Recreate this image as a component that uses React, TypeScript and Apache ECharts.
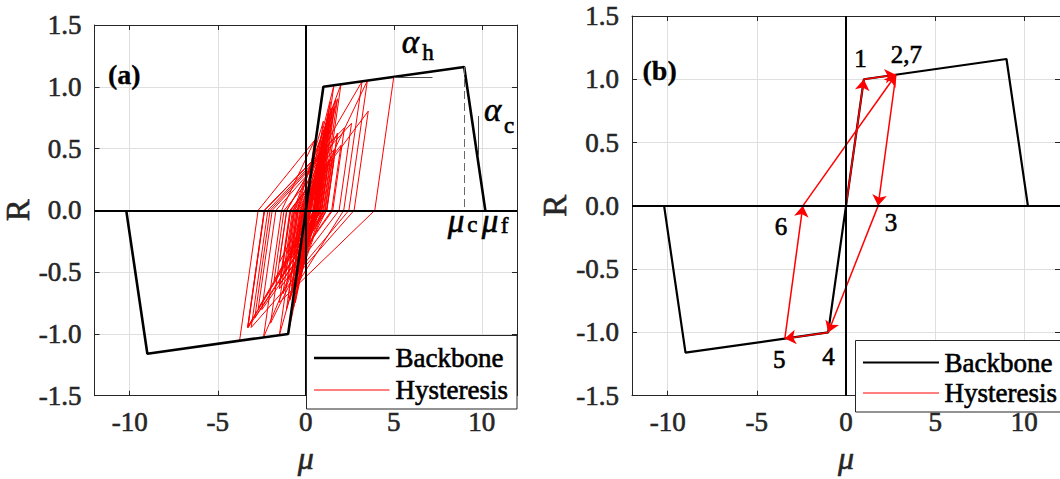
import React, { useEffect, useRef } from "react";
import * as echarts from "echarts";

const FONT = "'Liberation Serif', 'Times New Roman', 'DejaVu Serif', serif";

const xTicks = [-10, -5, 0, 5, 10];
const yTicks = [-1.5, -1.0, -0.5, 0, 0.5, 1.0, 1.5];

// Backbone curve (mu, R)
const backbone: [number, number][] = [
  [-10.2, 0], [-9, -1.16], [-1, -1], [0, 0], [1, 1], [9, 1.16], [10.2, 0],
];

// Panel (a): hysteresis history (mu, R)
const hystA: [number, number][] = [
  [0, 0], [0.5, 0.5], [-0.4, -0.4], [0.8, 0.8], [-0.7, -0.7], [1.0, 1.0], [1.6, 1.012],
  [0.588, 0], [-0.3, -0.559], [0.259, 0], [1.1, 0.635], [0.465, 0], [-0.5, -0.659], [0.159, 0],
  [1.3, 0.801], [0.499, 0], [-0.2, -0.466], [0.266, 0], [0.9, 0.481], [0.419, 0], [-0.7, -0.789],
  [0.089, 0], [1.4, 0.878], [0.522, 0],
  [-0.6, -0.748], [0.148, 0], [1.2, 0.734], [0.466, 0], [-1.0, -1.0], [-1.5, -1.01],
  [-0.49, 0], [1.0, 0.721], [0.279, 0], [-0.8, -0.613], [-0.187, 0], [1.6, 1.012], [2.0, 1.02],
  [0.98, 0], [-0.3, -0.521], [0.221, 0], [1.0, 0.447], [0.553, 0], [-0.6, -0.567], [-0.033, 0],
  [1.3, 0.669], [0.631, 0], [-0.2, -0.394], [0.194, 0], [0.9, 0.399], [0.501, 0], [-0.8, -0.657],
  [-0.143, 0], [1.5, 0.782], [0.718, 0], [-0.4, -0.509], [0.109, 0], [1.1, 0.534], [0.566, 0],
  [-0.5, -0.521], [0.021, 0], [1.3, 0.659], [0.641, 0],
  [-0.9, -0.727], [-0.173, 0], [1.6, 0.832], [0.768, 0], [-0.3, -0.475], [0.175, 0], [0.8, 0.349],
  [0.451, 0], [-1.1, -0.803], [-0.297, 0], [1.4, 0.754], [0.646, 0], [-0.1, -0.351], [0.251, 0],
  [1.8, 0.903], [0.897, 0], [-0.6, -0.631], [0.031, 0], [1.0, 0.502], [0.498, 0],
  [-1.5, -1.01], [-2.4, -1.028],
  [-1.372, 0], [0.5, 0.566], [-0.066, 0], [-1.2, -0.5], [-0.7, 0], [1.5, 0.831], [0.669, 0],
  [-1.0, -0.559], [-0.441, 0], [1.7, 0.895], [0.805, 0], [-1.3, -0.676], [-0.624, 0], [2.0, 1.02],
  [3.2, 1.044], [2.156, 0], [-1.0, -0.712], [-0.288, 0], [1.8, 0.625], [1.175, 0], [-2.0, -0.913],
  [-1.087, 0], [1.2, 0.557], [0.643, 0], [-2.4, -1.028], [-3.76, -1.055], [-2.705, 0], [0.6, 0.584],
  [0.016, 0], [-1.5, -0.423], [-1.077, 0], [3.2, 1.044], [3.5, 1.05], [2.45, 0], [-0.5, -0.502],
  [0.002, 0], [3.5, 1.05], [5.0, 1.08], [3.92, 0], [-1.5, -0.745], [-0.755, 0], [1.5, 0.423],
  [1.077, 0], [-3.29, -0.952], [-2.338, 0], [0.8, 0.462], [0.338, 0], [-1.0, -0.344], [-0.656, 0],
  [3.55, 0.803], [2.747, 0], [-3.1, -0.948], [-2.152, 0], [1.0, 0.476], [0.524, 0], [-2.7, -0.794],
  [-1.906, 0], [2.6, 0.705], [1.895, 0], [-1.5, -0.634], [-0.866, 0], [2.0, 0.527], [1.473, 0],
  [-1.5, -0.6], [-0.9, 0], [1.3, 0.403], [0.897, 0], [-0.9, -0.407], [-0.493, 0], [1.2, 0.333],
  [0.867, 0], [-0.7, -0.357], [-0.343, 0], [1.1, 0.292], [0.808, 0], [-0.5, -0.302], [-0.198, 0],
  [0.9, 0.228], [0.672, 0], [-0.4, -0.255], [-0.145, 0], [0.7, 0.177], [0.523, 0], [-0.3, -0.202],
  [-0.098, 0], [0.6, 0.148], [0.452, 0], [-0.9, -0.339], [-0.561, 0], [1.4, 0.381], [1.019, 0],
  [-0.6, -0.357], [-0.243, 0], [1.2, 0.297], [0.903, 0], [-0.8, -0.385], [-0.415, 0], [1.6, 0.402],
  [1.198, 0], [-0.3, -0.319], [0.019, 0], [1.0, 0.221], [0.779, 0], [-0.2, -0.228], [0.028, 0],
  [0.8, 0.167], [0.633, 0], [-3.3, -0.944], [-2.356, 0], [1.8, 0.61], [1.19, 0], [-2.9, -0.872],
  [-2.028, 0], [1.2, 0.496], [0.704, 0], [-3.3, -0.946], [-2.354, 0], [2.2, 0.669], [1.531, 0],
  [-2.5, -0.804], [-1.696, 0], [0.9, 0.419], [0.481, 0], [-1.8, -0.567], [-1.233, 0], [1.6, 0.491],
  [1.109, 0], [-1.4, -0.544], [-0.856, 0], [0.7, 0.287], [0.413, 0],
];

// Panel (b): path 0 -> 1 -> 2 -> 3 -> 4 -> 5 -> 6 -> 7(=2)
const pathB: [number, number][] = [
  [0, 0], [1, 1], [2.8, 1.036], [1.8, 0], [-1.0, -1.0], [-3.43, -1.049], [-2.42, 0], [2.8, 1.036],
];

const pointLabelsB = [
  { t: "1", x: 0.81, y: 1.163 },
  { t: "2,7", x: 3.38, y: 1.192 },
  { t: "3", x: 2.53, y: -0.135 },
  { t: "4", x: -0.98, y: -1.19 },
  { t: "5", x: -3.75, y: -1.215 },
  { t: "6", x: -3.65, y: -0.166 },
];

// Symbol annotations in (a): [main glyph, subscript] with data anchors
const symbolsA = [
  { main: "α", sub: "h", mx: 5.95, my: 1.36, sx: 6.95, sy: 1.28 },
  { main: "α", sub: "c", mx: 10.61, my: 0.816, sx: 11.55, sy: 0.69 },
  { main: "μ", sub: "c", mx: 8.54, my: -0.09, sx: 9.47, sy: -0.115 },
  { main: "μ", sub: "f", mx: 10.47, my: -0.09, sx: 11.3, sy: -0.125 },
];

const gridsPx = [
  { left: 89, top: 25, width: 428, height: 384 },
  { left: 632, top: 16, width: 433, height: 396 },
];

const HEAVY = { textBorderColor: "#262626", textBorderWidth: 0.6 };

function axesFor(g: number) {
  const axisLine = { show: true, onZero: false, lineStyle: { color: "#262626", width: 1 } };
  const tick = (vals: number[]) => ({
    show: true, inside: true, length: 5, customValues: vals,
    lineStyle: { color: "#262626", width: 1 },
  });
  const split = { show: true, lineStyle: { color: "#dfdfdf", width: 1 } };
  const label = { fontFamily: FONT, fontSize: 27, color: "#262626", ...HEAVY };
  const xAxis = [
    {
      type: "value", gridIndex: g, min: -12, max: 12, position: "bottom",
      axisLine, axisTick: tick(xTicks), splitLine: split,
      axisLabel: { ...label, customValues: xTicks, margin: 13, formatter: (v: number) => String(v) },
      name: "μ", nameLocation: "middle", nameGap: 46,
      nameTextStyle: { fontFamily: FONT, fontStyle: "italic", fontSize: 32, color: "#262626", ...HEAVY },
    },
    {
      type: "value", gridIndex: g, min: -12, max: 12, position: "top",
      axisLine, axisTick: tick(xTicks), splitLine: { show: false }, axisLabel: { show: false },
    },
  ];
  const yAxis = [
    {
      type: "value", gridIndex: g, min: -1.5, max: 1.5, interval: 0.5, position: "left",
      axisLine, axisTick: tick(yTicks), splitLine: split,
      axisLabel: { ...label, margin: 13, formatter: (v: number) => v.toFixed(1) },
      name: "R", nameLocation: "middle", nameGap: 58, nameRotate: 90,
      nameTextStyle: { fontFamily: FONT, fontSize: 33, color: "#262626", ...HEAVY },
    },
    {
      type: "value", gridIndex: g, min: -1.5, max: 1.5, interval: 0.5, position: "right",
      axisLine, axisTick: tick(yTicks), splitLine: { show: false }, axisLabel: { show: false },
    },
  ];
  return { xAxis, yAxis };
}

function zeroMarks(width: number) {
  return {
    silent: true, symbol: ["none", "none"], label: { show: false },
    lineStyle: { color: "#000", width, type: "solid" },
    data: [{ yAxis: 0 }, { xAxis: 0 }],
  };
}

export default function App() {
  const ref = useRef<HTMLDivElement>(null);
  useEffect(() => {
    if (!ref.current) return;
    const chart = echarts.init(ref.current, null, { renderer: "svg" });
    const a0 = axesFor(0);
    const a1 = axesFor(1);
    const segs = pathB.slice(1).map((p, i) => ({ coords: [pathB[i], p] }));
    const option: any = {
      animation: false,
      backgroundColor: "#fff",
      textStyle: { fontFamily: FONT },
      grid: gridsPx.map((g) => ({ ...g, containLabel: false })),
      xAxis: [...a0.xAxis, ...a1.xAxis],
      yAxis: [...a0.yAxis, ...a1.yAxis],
      series: [
        {
          name: "Hysteresis", type: "line", xAxisIndex: 0, yAxisIndex: 0, data: hystA,
          symbol: "none", lineStyle: { color: "#ff0000", width: 1 }, z: 2, silent: true,
        },
        {
          name: "Backbone", type: "line", xAxisIndex: 0, yAxisIndex: 0, data: backbone,
          symbol: "none", lineStyle: { color: "#000", width: 2.6 }, z: 3, silent: true,
          markLine: { ...zeroMarks(2) },
        },
        {
          name: "guides", type: "line", xAxisIndex: 0, yAxisIndex: 0, data: [],
          symbol: "none", z: 3, silent: true,
          markLine: {
            silent: true, symbol: ["none", "none"], label: { show: false },
            lineStyle: { color: "#4d4d4d", width: 1, type: "solid" },
            data: [
              [{ coord: [5, 1.078] }, { coord: [7.2, 1.078] }],
              [{ coord: [9.82, 0.763] }, { coord: [9.82, 0.445] }],
              [
                { coord: [9.02, 1.16], lineStyle: { type: [8, 4], color: "#6a6a6a" } },
                { coord: [9.02, 0] },
              ],
            ],
          },
        },
        {
          name: "Backbone b", type: "line", xAxisIndex: 2, yAxisIndex: 2, data: backbone,
          symbol: "none", lineStyle: { color: "#000", width: 2.2 }, z: 3, silent: true,
          markLine: { ...zeroMarks(2) },
        },
        {
          name: "Hysteresis b", type: "lines", coordinateSystem: "cartesian2d",
          xAxisIndex: 2, yAxisIndex: 2, data: segs, symbol: ["none", "arrow"], symbolSize: 11,
          lineStyle: { color: "#ff0000", width: 1.5, opacity: 1, curveness: 0 }, z: 4, silent: true,
        },
      ],
    };
    chart.setOption(option);

    const px = (g: number, x: number, y: number) =>
      chart.convertToPixel({ xAxisIndex: g * 2, yAxisIndex: g * 2 } as any, [x, y]) as number[];
    const txt = (x: number, y: number, text: string, size: number, opts: any = {}, align = "center") => ({
      type: "text", x, y, z: 50,
      style: {
        text, fontFamily: FONT, fontSize: size, fontStyle: opts.italic ? "italic" : "normal",
        fontWeight: opts.bold ? "bold" : "normal", fill: "#000", align, verticalAlign: "middle",
        stroke: "#000", lineWidth: opts.bold ? 0.3 : 0.6,
      },
    });
    const gfx: any[] = [];
    const pa = px(0, -10.31, 1.103);
    gfx.push(txt(pa[0], pa[1], "(a)", 28, { bold: true }));
    const pb = px(1, -10.45, 1.068);
    gfx.push(txt(pb[0], pb[1], "(b)", 28, { bold: true }));
    symbolsA.forEach((s) => {
      const m = px(0, s.mx, s.my);
      const b = px(0, s.sx, s.sy);
      gfx.push(txt(m[0], m[1], s.main, 33, { italic: true }));
      gfx.push(txt(b[0], b[1], s.sub, 23));
    });
    pointLabelsB.forEach((l) => {
      const p = px(1, l.x, l.y);
      gfx.push(txt(p[0], p[1], l.t, 25));
    });
    const legend = (x: number, y: number, w: number, h: number, y1: number, y2: number, lx1: number, lx2: number, tx: number, bw: number) => {
      gfx.push({
        type: "rect", z: 60, shape: { x, y, width: w, height: h },
        style: { fill: "#fff", stroke: "#262626", lineWidth: 1 },
      });
      gfx.push({ type: "line", z: 61, shape: { x1: lx1, y1, x2: lx2, y2: y1 }, style: { stroke: "#000", lineWidth: bw } });
      gfx.push({ type: "line", z: 61, shape: { x1: lx1, y1: y2, x2: lx2, y2 }, style: { stroke: "#ff0000", lineWidth: 1 } });
      gfx.push({ ...txt(tx, y1, "Backbone", 27, {}, "left"), z: 62 });
      gfx.push({ ...txt(tx, y2, "Hysteresis", 27, {}, "left"), z: 62 });
    };
    legend(306.5, 335.5, 210.5, 73.5, 358, 390, 314, 389.5, 395.5, 2.6);
    legend(855.5, 340.5, 230, 71.5, 362.5, 393, 863, 939, 944.5, 2.2);
    chart.setOption({ graphic: gfx });

    return () => chart.dispose();
  }, []);
  return (
    <div
      ref={ref}
      style={{ position: "absolute", left: 0, top: 0, width: 1060, height: 479, background: "#fff" }}
    />
  );
}
